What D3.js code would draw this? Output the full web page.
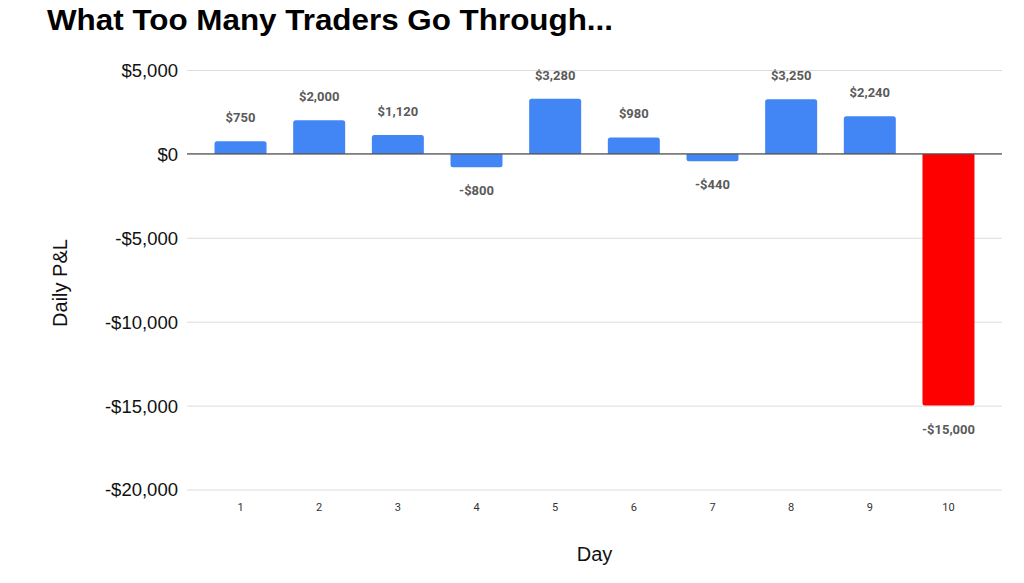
<!DOCTYPE html>
<html><head><meta charset="utf-8">
<script src="https://cdn.jsdelivr.net/npm/d3@7"></script>
<style>body{margin:0;background:#fff}svg{display:block}</style>
</head><body>
<svg id="c" width="1024" height="583"></svg>
<script>
const days = ["1","2","3","4","5","6","7","8","9","10"];
const pnl = [750, 2000, 1120, -800, 3280, 980, -440, 3250, 2240, -15000];
const barColors = ["#4285F4","#4285F4","#4285F4","#4285F4","#4285F4","#4285F4","#4285F4","#4285F4","#4285F4","#FF0000"];
const yTicks = [5000, 0, -5000, -10000, -15000, -20000];

const svg = d3.select("#c");
const L = 187, R = 1002, T = 70, B = 489.5;
const x = d3.scaleBand().domain(days).range([L, R]).paddingInner(0.339).paddingOuter(0.35);
const y = d3.scaleLinear().domain([-20000, 5000]).range([B, T]);
const fmt = v => (v < 0 ? "-$" : "$") + d3.format(",")(Math.abs(v));
const SANS = "Liberation Sans, Arial, sans-serif";

// title
svg.append("text").attr("x", 47).attr("y", 30).attr("font-family", SANS)
  .attr("font-weight", "bold").attr("font-size", 29).attr("fill", "#000")
  .attr("textLength", 566).attr("lengthAdjust", "spacingAndGlyphs")
  .text("What Too Many Traders Go Through...");

// grid + y axis
const yAxis = d3.axisLeft(y).tickValues(yTicks).tickSize(-(R - L)).tickFormat(fmt).tickPadding(9);
const ga = svg.append("g").attr("transform", `translate(${L},0)`).call(yAxis);
ga.select(".domain").remove();
ga.selectAll(".tick line").attr("stroke", "#dcdcdc").attr("stroke-width", 1);
ga.selectAll(".tick text").attr("font-family", SANS).attr("font-size", 18.5)
  .attr("fill", "#111").attr("dy", "0.35em");

// bars
const path = (d, i) => {
  const x0 = x(days[i]), w = x.bandwidth(), r = 2.5;
  const y0 = y(0), y1 = y(d);
  if (d >= 0) {
    return `M${x0},${y0}V${y1 + r}Q${x0},${y1} ${x0 + r},${y1}H${x0 + w - r}Q${x0 + w},${y1} ${x0 + w},${y1 + r}V${y0}Z`;
  } else {
    return `M${x0},${y0}V${y1 - r}Q${x0},${y1} ${x0 + r},${y1}H${x0 + w - r}Q${x0 + w},${y1} ${x0 + w},${y1 - r}V${y0}Z`;
  }
};
svg.append("g").selectAll("path").data(pnl).join("path")
  .attr("d", path).attr("fill", (d, i) => barColors[i]);

// zero line
svg.append("line").attr("x1", L).attr("x2", R).attr("y1", y(0)).attr("y2", y(0))
  .attr("stroke", "#555").attr("stroke-width", 1.2);

// data labels
svg.append("g").selectAll("text").data(pnl).join("text")
  .attr("x", (d, i) => x(days[i]) + x.bandwidth() / 2)
  .attr("y", d => d >= 0 ? y(d) - 19 : y(d) + 28)
  .attr("text-anchor", "middle").attr("font-family", "Roboto, sans-serif").attr("font-weight", "bold")
  .attr("font-size", 13).attr("fill", "#5a5a5a").text(fmt);

// x axis labels
const xAxis = d3.axisBottom(x).tickSize(0).tickPadding(14);
const gx = svg.append("g").attr("transform", `translate(0,${B})`).call(xAxis);
gx.select(".domain").remove();
gx.selectAll(".tick text").attr("font-family", "Roboto, sans-serif").attr("font-size", 11).attr("fill", "#333");

// axis titles
svg.append("text").attr("x", (L + R) / 2).attr("y", 561).attr("text-anchor", "middle")
  .attr("font-family", SANS).attr("font-size", 20).attr("fill", "#111").text("Day");
svg.append("text").attr("transform", `translate(67,283) rotate(-90)`).attr("text-anchor", "middle")
  .attr("font-family", SANS).attr("font-size", 20).attr("fill", "#111").text("Daily P&L");
</script>
</body></html>
